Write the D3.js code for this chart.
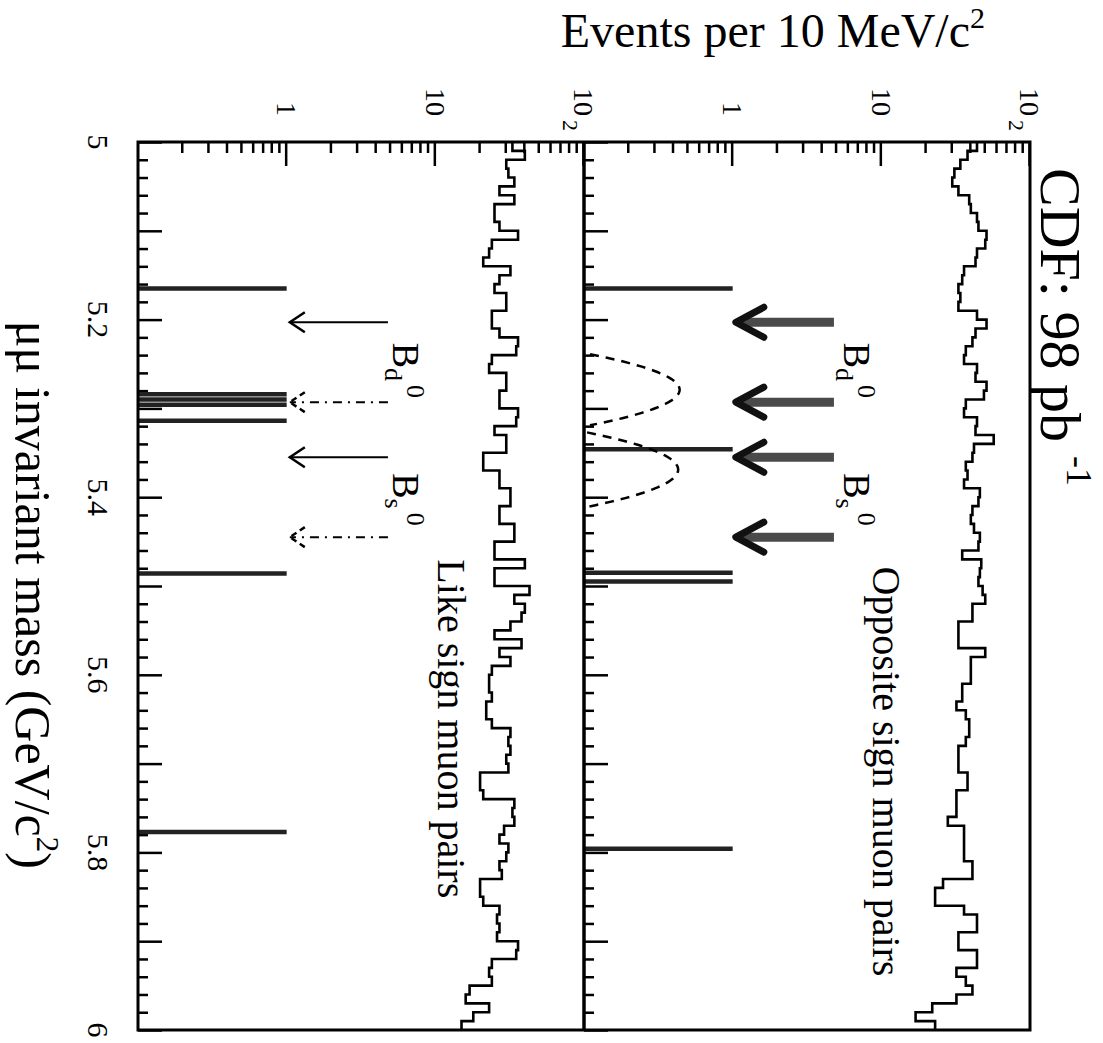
<!DOCTYPE html>
<html>
<head>
<meta charset="utf-8">
<script src="https://cdn.jsdelivr.net/npm/d3@7"></script>
<style>
  body { margin: 0; background: #fff; }
  svg { display: block; }
  text { font-family: "Liberation Serif", "Times New Roman", serif; fill: #000; }
</style>
</head>
<body>
<svg id="chart" width="1103" height="1043"></svg>
<script>
// bin low edges, 10 MeV bins from 5.0 to 6.0 GeV/c^2
const binEdges = d3.range(100).map(i => +(5 + i * 0.01).toFixed(2));

// events per bin
const oppositeSign = [
  44, 38, 34, 31, 30, 33, 39, 40, 44, 45,
  51, 50, 44, 43, 36, 35, 33, 34, 33, 44,
  51, 43, 41, 37, 36, 44, 43, 51, 49, 37,
  36, 44, 43, 57, 42, 41, 37, 38, 36, 46,
  45, 41, 40, 42, 46, 45, 35, 47, 46, 45,
  48, 50, 41, 41, 33, 33, 33, 50, 40, 40,
  40, 35, 35, 32, 37, 39, 39, 37, 33, 33,
  33, 38, 38, 32, 32, 32, 28, 36, 36, 36,
  36, 41, 41, 26, 23, 23, 36, 44, 44, 33,
  33, 44, 44, 32, 37, 41, 32, 22, 17, 23
];
const likeSign = [
  33, 40, 30, 31, 34, 27, 34, 25, 25, 27,
  36, 24, 23, 21, 32, 27, 25, 30, 30, 24,
  24, 27, 36, 35, 24, 23, 30, 30, 27, 27,
  36, 35, 25, 30, 30, 21, 21, 27, 27, 32,
  32, 27, 27, 34, 34, 25, 25, 40, 25, 25,
  43, 34, 40, 38, 32, 25, 38, 27, 32, 24,
  23, 23, 24, 22, 22, 24, 32, 31, 32, 30,
  31, 20, 20, 21, 34, 33, 34, 29, 27, 31,
  30, 27, 28, 20, 20, 21, 27, 26, 27, 26,
  36, 35, 24, 23, 24, 17, 16, 23, 18, 15
];

// single candidate events (drawn up to 1 event)
const oppositeCandidates = [5.165, 5.346, 5.485, 5.495, 5.796];
const likeCandidates = [5.165, 5.284, 5.290, 5.296, 5.314, 5.486, 5.777];

// search window edges: B_d (solid) and B_s (dash-dot)
const bdWindow = [5.203, 5.355];
const bsWindow = [5.293, 5.445];
const arrowFrom = 4.8, arrowTo = 1.05;

// expected signal shapes (mean, width, height)
const signalShapes = [
  { mass: 5.279, sigma: 0.024, height: 0.44 },
  { mass: 5.369, sigma: 0.025, height: 0.43 }
];

const massTicks = [5, 5.2, 5.4, 5.6, 5.8, 6];
const countTicks = [1, 10, 100];
const bLabels = [
  { sub: "d", mass: 5.226 },
  { sub: "s", mass: 5.373 }
];

const svg = d3.select("#chart");
const W = 888, panelH = 446, H = panelH * 2;

// the plot is drawn upright and then turned a quarter turn clockwise
const g = svg.append("g").attr("transform", "translate(1030,142) rotate(90)");

const x = d3.scaleLinear().domain([5, 6]).range([0, W]);
const yUp = d3.scaleLog().domain([0.1, 100]).range([panelH, 0]);
const yLow = d3.scaleLog().domain([0.1, 100]).range([H, panelH]);

const minorCounts = [];
[0.1, 1, 10].forEach(d => { for (let k = 2; k <= 9; k++) minorCounts.push(+(d * k).toFixed(2)); });
const massMajor = d3.range(0, 11).map(i => +(5 + i * 0.1).toFixed(2));
const massMinor = d3.range(0, 51).map(i => +(5 + i * 0.02).toFixed(2)).filter(m => !massMajor.includes(m));

function panel(y, counts, candidates, opposite) {
  // mass ticks along the panel bottom, pointing in
  const base = y.range()[0];
  g.append("g").attr("transform", "translate(0," + base + ")")
    .call(d3.axisBottom(x).tickValues(massMajor).tickSizeInner(-24).tickSizeOuter(0).tickFormat(""))
    .call(a => a.select(".domain").remove())
    .selectAll("line").attr("stroke-width", 2.5);
  g.append("g").attr("transform", "translate(0," + base + ")")
    .call(d3.axisBottom(x).tickValues(massMinor).tickSizeInner(-10).tickSizeOuter(0).tickFormat(""))
    .call(a => a.select(".domain").remove())
    .selectAll("line").attr("stroke-width", 2.5);

  // count ticks on the left edge
  g.append("g")
    .call(d3.axisLeft(y).tickValues(countTicks).tickSizeInner(-24).tickSizeOuter(0).tickFormat(""))
    .call(a => a.select(".domain").remove())
    .selectAll("line").attr("stroke-width", 2.5);
  g.append("g")
    .call(d3.axisLeft(y).tickValues(minorCounts).tickSizeInner(-11).tickSizeOuter(0).tickFormat(""))
    .call(a => a.select(".domain").remove())
    .selectAll("line").attr("stroke-width", 2.5);

  // count labels
  const lab = g.append("g").attr("font-size", 28);
  lab.selectAll("text.n").data(countTicks.filter(d => d < 100)).join("text")
    .attr("class", "n")
    .attr("x", -26).attr("y", d => y(d)).attr("dy", "0.35em")
    .attr("text-anchor", "end").text(d => d);
  lab.append("text").attr("x", -26).attr("y", y(100)).attr("dy", "0.35em")
    .attr("text-anchor", "end").text("10");
  lab.append("text").attr("x", -22).attr("y", y(100)).attr("dy", "0.95em")
    .attr("font-size", 22).text("2");

  // background histogram
  const pts = counts.map((v, i) => [binEdges[i], v]);
  pts.push([6, counts[counts.length - 1]]);
  g.append("path").datum(pts)
    .attr("fill", "none").attr("stroke", "#000").attr("stroke-width", 2.6)
    .attr("d", d3.line().curve(d3.curveStepAfter).x(d => x(d[0])).y(d => y(d[1])));

  // candidates
  g.append("g").selectAll("line").data(candidates).join("line")
    .attr("x1", d => x(d)).attr("x2", d => x(d))
    .attr("y1", y(0.1)).attr("y2", y(1))
    .attr("stroke", "#222").attr("stroke-width", 4.5);

  // window arrows
  const arrows = [];
  bdWindow.forEach(m => arrows.push({ m, dash: false }));
  bsWindow.forEach(m => arrows.push({ m, dash: true }));
  const ag = g.append("g").attr("fill", "none");
  arrows.forEach(a => {
    const ax = x(a.m), y0 = y(arrowFrom), y1 = y(arrowTo);
    if (opposite) {
      ag.append("line").attr("x1", ax).attr("x2", ax).attr("y1", y0).attr("y2", y1 - 4)
        .attr("stroke", "#4a4a4a").attr("stroke-width", 9);
      ag.append("path").attr("d", `M${ax - 15},${y1 - 28}L${ax},${y1}L${ax + 15},${y1 - 28}`)
        .attr("stroke", "#111").attr("stroke-width", 7).attr("stroke-linejoin", "round").attr("stroke-linecap", "round");
    } else {
      const dash = a.dash ? "9,6,2,6" : null;
      ag.append("line").attr("x1", ax).attr("x2", ax).attr("y1", y0).attr("y2", y1)
        .attr("stroke", "#000").attr("stroke-width", 2).attr("stroke-dasharray", dash);
      ag.append("path").attr("d", `M${ax - 10},${y1 - 15}L${ax},${y1}L${ax + 10},${y1 - 15}`)
        .attr("stroke", "#000").attr("stroke-width", 2.5).attr("stroke-dasharray", a.dash ? "6,4" : null);
    }
  });

  // B labels
  const by = opposite ? 186 : 637;
  bLabels.forEach(b => {
    const t = g.append("text").attr("x", x(b.mass)).attr("y", by).attr("font-size", 38);
    t.append("tspan").text("B");
    t.append("tspan").attr("font-size", 26).attr("dy", 8).text(b.sub);
    t.append("tspan").attr("font-size", 26).attr("dy", -22).attr("dx", 4).text("0");
  });
}

panel(yUp, oppositeSign, oppositeCandidates, true);
panel(yLow, likeSign, likeCandidates, false);

// expected signal shapes in the opposite sign panel
signalShapes.forEach(s => {
  const ms = d3.range(s.mass - 0.06, s.mass + 0.0601, 0.002);
  const curve = ms.map(m => [m, s.height * Math.exp(-((m - s.mass) ** 2) / (2 * s.sigma ** 2))]);
  g.append("path").datum(curve)
    .attr("fill", "none").attr("stroke", "#000").attr("stroke-width", 2.5)
    .attr("stroke-dasharray", "9,7")
    .attr("d", d3.line().defined(d => d[1] >= 0.1).x(d => x(d[0])).y(d => yUp(d[1])));
});

// frame and divider
g.append("rect").attr("x", 0).attr("y", 0).attr("width", W).attr("height", H)
  .attr("fill", "none").attr("stroke", "#000").attr("stroke-width", 3);
g.append("line").attr("x1", 0).attr("x2", W).attr("y1", panelH).attr("y2", panelH)
  .attr("stroke", "#000").attr("stroke-width", 3.5);

// mass labels
g.append("g").attr("font-size", 30).selectAll("text").data(massTicks).join("text")
  .attr("x", d => x(d)).attr("y", H + 50).attr("text-anchor", "middle")
  .text(d => d3.format("~g")(d));

const xt = g.append("text").attr("x", x(5.51)).attr("y", H + 122)
  .attr("text-anchor", "middle").attr("font-size", 50);
xt.append("tspan").text("\u03bc\u03bc invariant mass (GeV/c");
xt.append("tspan").attr("font-size", 31).attr("dy", -21).text("2");
xt.append("tspan").attr("dy", 21).text(")");

// panel labels
g.append("text").attr("x", x(5.478)).attr("y", 157).attr("font-size", 40).text("Opposite sign muon pairs");
g.append("text").attr("x", x(5.47)).attr("y", 592).attr("font-size", 40).text("Like sign muon pairs");

// luminosity label
const cdf = g.append("text").attr("x", 26).attr("y", -11).attr("font-size", 58);
cdf.append("tspan").text("CDF: 98 pb");
cdf.append("tspan").attr("font-size", 36).attr("dx", 14).attr("dy", -26).text("-1");

// y title, upright on the page
const yt = svg.append("text").attr("x", 985).attr("y", 47).attr("text-anchor", "end").attr("font-size", 48);
yt.append("tspan").text("Events per 10 MeV/c");
yt.append("tspan").attr("font-size", 30).attr("dy", -19).text("2");
</script>
</body>
</html>
